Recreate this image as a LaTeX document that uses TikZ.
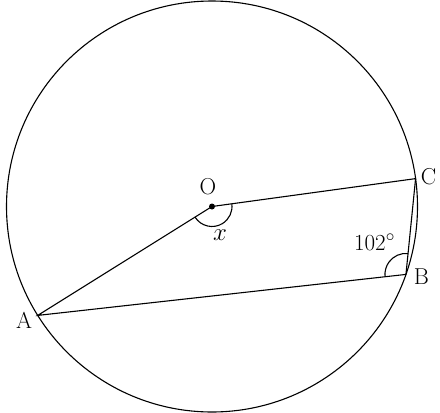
\documentclass[tikz,border=0pt]{standalone}
\usetikzlibrary{angles,calc}
\begin{document}
\begin{tikzpicture}[x=1pt,y=1pt,
  line width=1.1pt,
  lbl/.style={font=\fontsize{23}{27}\selectfont, inner sep=0pt},
  ang/.style={draw, line width=1.1pt, angle radius=20pt}]
\useasboundingbox (0,-413) rectangle (440,0);
\coordinate (O) at (212,-206.5);
\coordinate (A) at ($(O)+(212:205.5)$);
\coordinate (B) at ($(O)+(-19.3:205.5)$);
\coordinate (C) at ($(O)+(7.8:205.5)$);
\draw (O) circle[radius=205.5];
\draw (O) -- (C) -- (B) -- (A) -- (O);
\pic[ang] {angle = A--O--C};
\pic[ang, angle radius=21pt] {angle = C--B--A};
\fill (O) circle[radius=3];
\node[lbl] (lO) at (208,-187) {O};
\node[lbl] (lx) at (220,-235) {$x$};
\node[lbl] (lC) at (428.5,-177) {C};
\node[lbl] (lB) at (421.5,-276.5) {B};
\node[lbl] (lA) at (24,-320) {A};
\node[lbl] (l102) at (374.5,-242) {102$^\circ$};
\end{tikzpicture}
\end{document}
